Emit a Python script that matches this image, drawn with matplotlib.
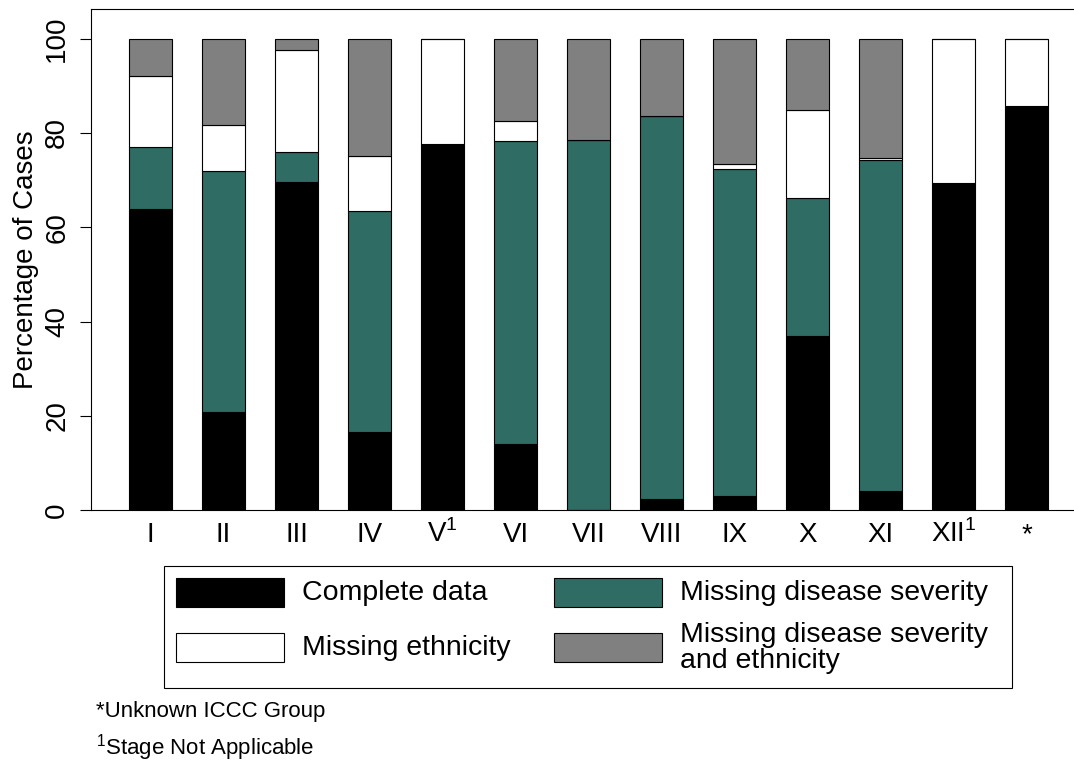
import numpy as np
import matplotlib.pyplot as plt
from matplotlib.patches import Rectangle

plt.rcParams['font.family'] = ['Liberation Sans', 'DejaVu Sans']
plt.rcParams['mathtext.fontset'] = 'custom'
plt.rcParams['mathtext.rm'] = 'Liberation Sans'

# ICCC groups along the x axis
groups = ['I', 'II', 'III', 'IV', r'V$^\mathrm{1}$', 'VI', 'VII', 'VIII', 'IX', 'X', 'XI',
          r'XII$^\mathrm{1}$', '*']

# percentage of cases in each category, stacked bottom to top
complete = [63.8, 20.7, 69.5, 16.5, 77.7, 14.1, 0.0, 2.4, 3.0, 37.0, 4.0, 69.3, 85.8]
miss_severity = [13.2, 51.3, 6.4, 47.0, 0.0, 64.2, 78.4, 81.1, 69.3, 29.3, 70.3, 0.0, 0.0]
miss_ethnicity = [15.0, 9.7, 21.7, 11.6, 22.3, 4.3, 0.0, 0.0, 1.2, 18.6, 0.4, 30.7, 14.2]
miss_both = [8.0, 18.3, 2.4, 24.9, 0.0, 17.4, 21.6, 16.5, 26.5, 15.1, 25.3, 0.0, 0.0]

labels = ['Complete data', 'Missing ethnicity',
          'Missing disease severity', 'Missing disease severity\nand ethnicity']
colors = ['black', 'white', '#2e6c64', '#808080']

fig = plt.figure(figsize=(10.74, 7.74), dpi=100)
ax = fig.add_axes([0.0847, 0.341, 0.9153, 0.6474])

x = np.arange(len(groups))
w = 0.6
series = [complete, miss_severity, miss_ethnicity, miss_both]
fills = ['black', '#2e6c64', 'white', '#808080']
bottom = np.zeros(len(groups))
for vals, c in zip(series, fills):
    ax.bar(x, vals, w, bottom=bottom, color=c, edgecolor='black', linewidth=0.8)
    bottom += np.array(vals)

ax.set_xlim(-0.815, 12.65)
ax.set_ylim(0, 106.3)
ax.set_yticks([0, 20, 40, 60, 80, 100])
ax.set_yticklabels(['0', '20', '40', '60', '80', '100'], rotation=90, va='center')
ax.set_xticks(x)
# baseline alignment keeps the superscripted labels level with the rest
ax.set_xticklabels(groups, va='baseline')
ax.tick_params(axis='x', length=0, pad=23, labelsize=20)
ax.tick_params(axis='y', length=8, width=0.8, pad=7, labelsize=20)
ax.set_ylabel('Percentage of Cases', fontsize=20, labelpad=4)
ax.spines['right'].set_visible(False)
for s in ['left', 'top', 'bottom']:
    ax.spines[s].set_linewidth(0.8)

# legend box with rows aligned across both columns
W, H = 1074.0, 774.0
def fx(px):
    return px / W
def fy(py):
    return 1 - py / H

fig.patches.append(Rectangle((fx(164), fy(688)), fx(1012) - fx(164), fy(566) - fy(688),
                             transform=fig.transFigure, fill=False, edgecolor='black',
                             linewidth=0.8))
entries = [(176, 578, 302, 0), (176, 633, 302, 1), (554, 578, 680, 2), (554, 633, 680, 3)]
for px, py, tx, i in entries:
    fig.patches.append(Rectangle((fx(px), fy(py + 29)), fx(108), 29 / H,
                                 transform=fig.transFigure, facecolor=colors[i],
                                 edgecolor='black', linewidth=0.8))
    fig.text(fx(tx), fy(py + 15), labels[i], fontsize=20.5, va='center', ha='left',
             linespacing=1.05)

fig.text(fx(96), fy(712), '*Unknown ICCC Group', fontsize=16, va='center')
fig.text(fx(96), fy(748), r'$^\mathrm{1}$Stage Not Applicable', fontsize=16, va='center')

fig.savefig('out.png', dpi=100)
